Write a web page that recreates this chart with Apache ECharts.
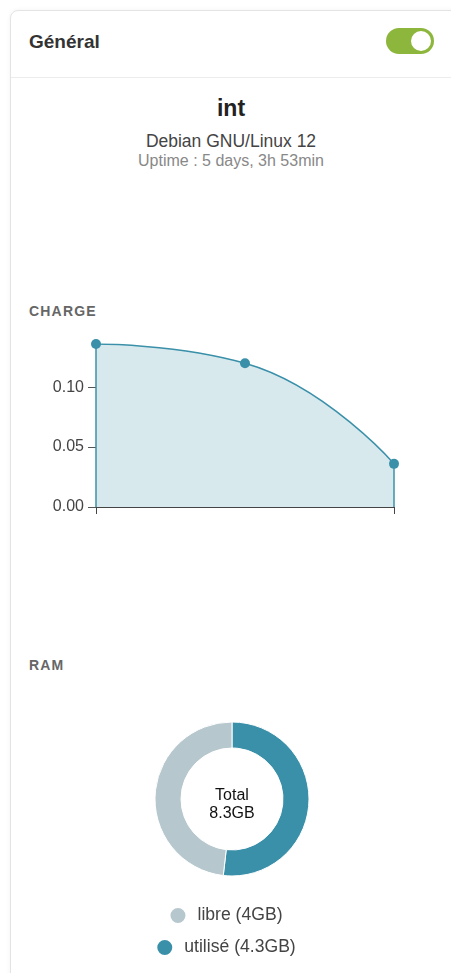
<!DOCTYPE html>
<html>
<head>
<meta charset="utf-8">
<script src="https://cdn.jsdelivr.net/npm/echarts@6/dist/echarts.min.js"></script>
<style>
  html, body { margin: 0; padding: 0; background: #fff; width: 451px; height: 973px; overflow: hidden; font-family: "Liberation Sans", Arial, sans-serif; }
  .card { position: absolute; left: 10px; top: 10px; width: 470px; height: 1000px; border: 1px solid #e4e4e4; border-radius: 8px; box-shadow: 0 0 5px rgba(0,0,0,0.05); background: #fff; }
  .sep { position: absolute; left: 11px; top: 77px; width: 440px; height: 1px; background: #ececec; }
  .hdr { position: absolute; left: 29px; top: 31px; font-size: 19px; font-weight: bold; color: #333; }
  .toggle { position: absolute; left: 386px; top: 28px; width: 48px; height: 26px; border-radius: 13px; background: #8db63c; }
  .knob { position: absolute; right: 3px; top: 3px; width: 20px; height: 20px; border-radius: 10px; background: #fff; }
  .c { position: absolute; left: 0; width: 462px; text-align: center; }
  .t1 { top: 95px; font-size: 23px; font-weight: bold; color: #222; }
  .t2 { top: 131px; font-size: 17.5px; color: #444; }
  .t3 { top: 152px; font-size: 16px; color: #888; }
  .sec { position: absolute; left: 29px; font-size: 14px; font-weight: bold; color: #666; letter-spacing: 1.2px; }
  #chart { position: absolute; left: 0; top: 0; width: 451px; height: 973px; }
</style>
</head>
<body>
<div class="card"></div>
<div class="sep"></div>
<div class="hdr">Général</div>
<div class="toggle"><div class="knob"></div></div>
<div class="c t1">int</div>
<div class="c t2">Debian GNU/Linux 12</div>
<div class="c t3">Uptime : 5 days, 3h 53min</div>
<div class="sec" style="top:303px">CHARGE</div>
<div class="sec" style="top:657px">RAM</div>
<div id="chart"></div>
<script>
const loadCategories = ['1 min', '5 min', '15 min'];
const loadValues = [0.136, 0.12, 0.036];
const ramLabels = ['utilisé', 'libre'];
const ramValues = [4.3, 4];
const ramColors = ['#3a90a9', '#b6c7cd'];

const teal = '#3a90a9';
const ramNames = ramLabels.map((l, i) => l + ' (' + ramValues[i] + 'GB)');
const ramTotal = ramValues.reduce((a, b) => a + b, 0);
const lastIdx = loadCategories.length - 1;

const chart = echarts.init(document.getElementById('chart'), null, { renderer: 'canvas' });
chart.setOption({
  animation: false,
  textStyle: { fontFamily: '"Liberation Sans", Arial, sans-serif' },
  grid: { left: 96, right: 57, top: 344, bottom: 466 },
  xAxis: {
    type: 'category',
    data: loadCategories,
    boundaryGap: false,
    axisLine: { show: true, lineStyle: { color: '#444', width: 1 } },
    axisTick: { show: true, length: 7, lineStyle: { color: '#444' }, interval: (i) => i === 0 || i === lastIdx },
    axisLabel: { show: false },
    splitLine: { show: false }
  },
  yAxis: {
    type: 'value',
    min: 0,
    max: 'dataMax',
    interval: 0.05,
    axisLine: { show: false },
    axisTick: { show: true, length: 8, lineStyle: { color: '#555' } },
    axisLabel: { showMaxLabel: false, fontSize: 16, color: '#444', margin: 12, formatter: (v) => v.toFixed(2) },
    splitLine: { show: false }
  },
  legend: [
    { data: [ramNames[1]], top: 901, left: 'center', icon: 'circle', itemWidth: 17, itemHeight: 17, selectedMode: false,
      textStyle: { fontSize: 17.6, color: '#444', padding: [0, 0, 0, 6] } },
    { data: [ramNames[0]], top: 933, left: 'center', icon: 'circle', itemWidth: 17, itemHeight: 17, selectedMode: false,
      textStyle: { fontSize: 17.6, color: '#444', padding: [0, 0, 0, 6] } }
  ],
  graphic: [{
    type: 'text', x: 232, y: 805,
    style: { text: 'Total\n' + ramTotal.toFixed(1) + 'GB', align: 'center', verticalAlign: 'middle', fontSize: 16, lineHeight: 18, fill: '#111', fontFamily: '"Liberation Sans", Arial, sans-serif' }
  }],
  series: [
    {
      type: 'line',
      data: loadValues,
      smooth: true,
      symbol: 'circle',
      symbolSize: 10,
      itemStyle: { color: teal },
      lineStyle: { color: teal, width: 1.5 },
      areaStyle: { color: teal, opacity: 0.2 },
      markLine: {
        silent: true, symbol: 'none', label: { show: false },
        lineStyle: { color: teal, type: 'solid', width: 1.5 },
        data: [
          [{ coord: [loadCategories[0], 0] }, { coord: [loadCategories[0], loadValues[0]] }],
          [{ coord: [loadCategories[lastIdx], 0] }, { coord: [loadCategories[lastIdx], loadValues[lastIdx]] }]
        ]
      }
    },
    {
      type: 'pie',
      center: [232, 799],
      radius: [51, 77],
      startAngle: 90,
      clockwise: true,
      label: { show: false },
      labelLine: { show: false },
      emphasis: { disabled: true },
      itemStyle: { borderColor: '#fff', borderWidth: 1 },
      data: ramNames.map((n, i) => ({ name: n, value: ramValues[i], itemStyle: { color: ramColors[i] } }))
    }
  ]
});
</script>
</body>
</html>
